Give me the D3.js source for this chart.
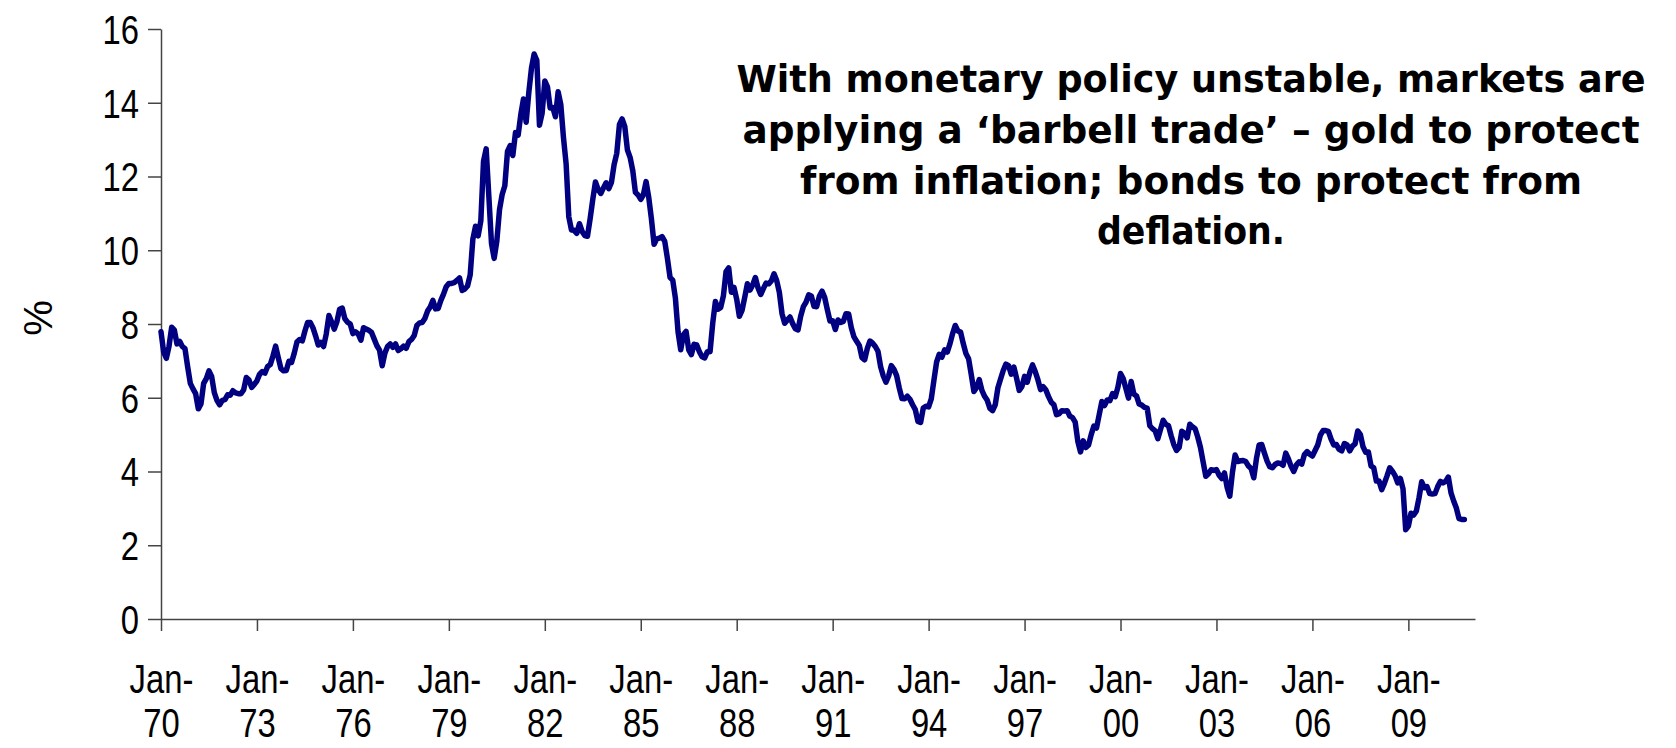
<!DOCTYPE html>
<html lang="en">
<head>
    <meta charset="UTF-8">
    <title>US 10-year yield</title>
    <script src="https://d3js.org/d3.v7.min.js"></script>
    <style>
        body { margin: 0; background: #fff; }
        svg { display: block; }
        .axis text { font-family: "Liberation Sans", Arial, sans-serif; font-size: 40px; fill: #000; }
        .note { font-family: "Comic Sans MS", "DejaVu Sans", sans-serif; font-weight: bold; font-size: 37px; fill: #000; }
    </style>
</head>
<body>
    <svg width="1676" height="748"></svg>

    <script>
        // monthly yields (%), Jan 1970 onward
        const y1970s = [
            7.79, 7.24, 7.07, 7.39, 7.91, 7.84, 7.46, 7.53, 7.39, 7.33, 6.84, 6.39,
            6.24, 6.11, 5.70, 5.83, 6.39, 6.52, 6.73, 6.58, 6.14, 5.93, 5.81, 5.93,
            5.95, 6.08, 6.07, 6.19, 6.13, 6.11, 6.11, 6.21, 6.55, 6.48, 6.28, 6.36,
            6.46, 6.64, 6.71, 6.67, 6.85, 6.90, 7.13, 7.40, 7.09, 6.79, 6.73, 6.74,
            6.99, 6.96, 7.21, 7.51, 7.58, 7.54, 7.81, 8.04, 8.04, 7.90, 7.68, 7.43,
            7.50, 7.39, 7.73, 8.23, 8.06, 7.86, 8.06, 8.40, 8.43, 8.14, 8.05, 8.00,
            7.74, 7.79, 7.73, 7.56, 7.90, 7.86, 7.83, 7.77, 7.59, 7.41, 7.29, 6.87,
            7.21, 7.39, 7.46, 7.37, 7.46, 7.28, 7.33, 7.40, 7.34, 7.52, 7.58, 7.69,
            7.96, 8.03, 8.04, 8.15, 8.35, 8.46, 8.64, 8.41, 8.42, 8.64, 8.81, 9.01,
            9.10, 9.10, 9.12, 9.18, 9.25, 8.91, 8.95, 9.03, 9.33, 10.30, 10.65, 10.39
        ];
        const y1980s = [
            10.80, 12.41, 12.75, 11.47, 10.18, 9.78, 10.25, 11.10, 11.51, 11.75, 12.68, 12.84,
            12.57, 13.19, 13.12, 13.68, 14.10, 13.47, 14.28, 14.94, 15.32, 15.15, 13.39, 13.72,
            14.59, 14.43, 13.86, 13.87, 13.62, 14.30, 13.95, 13.06, 12.34, 10.91, 10.55, 10.54,
            10.46, 10.72, 10.51, 10.40, 10.38, 10.85, 11.38, 11.85, 11.65, 11.54, 11.69, 11.83,
            11.67, 11.84, 12.32, 12.63, 13.41, 13.56, 13.36, 12.72, 12.52, 12.16, 11.57, 11.50,
            11.38, 11.51, 11.86, 11.43, 10.85, 10.16, 10.31, 10.33, 10.37, 10.24, 9.78, 9.26,
            9.19, 8.70, 7.78, 7.30, 7.71, 7.80, 7.30, 7.17, 7.45, 7.43, 7.25, 7.11,
            7.08, 7.25, 7.25, 8.02, 8.61, 8.40, 8.45, 8.76, 9.42, 9.52, 8.86, 8.99,
            8.67, 8.21, 8.37, 8.72, 9.09, 8.92, 9.06, 9.26, 8.98, 8.80, 8.96, 9.11,
            9.09, 9.17, 9.36, 9.18, 8.86, 8.28, 8.02, 8.11, 8.19, 8.01, 7.87, 7.84
        ];
        const y1990s = [
            8.21, 8.47, 8.59, 8.79, 8.76, 8.48, 8.47, 8.75, 8.89, 8.72, 8.39, 8.08,
            8.09, 7.85, 8.11, 8.04, 8.07, 8.28, 8.27, 7.90, 7.65, 7.53, 7.42, 7.09,
            7.03, 7.34, 7.54, 7.48, 7.39, 7.26, 6.84, 6.59, 6.42, 6.59, 6.87, 6.77,
            6.60, 6.26, 5.98, 5.97, 6.04, 5.96, 5.81, 5.68, 5.36, 5.33, 5.72, 5.77,
            5.75, 5.97, 6.48, 6.97, 7.18, 7.10, 7.30, 7.24, 7.46, 7.74, 7.96, 7.81,
            7.78, 7.47, 7.20, 7.06, 6.63, 6.17, 6.28, 6.49, 6.20, 6.04, 5.93, 5.71,
            5.65, 5.81, 6.27, 6.51, 6.74, 6.91, 6.87, 6.64, 6.83, 6.53, 6.20, 6.30,
            6.58, 6.42, 6.69, 6.89, 6.71, 6.49, 6.22, 6.30, 6.21, 6.03, 5.88, 5.81,
            5.54, 5.57, 5.65, 5.64, 5.65, 5.50, 5.46, 5.34, 4.81, 4.53, 4.83, 4.65,
            4.72, 5.00, 5.23, 5.18, 5.54, 5.90, 5.79, 5.94, 5.92, 6.11, 6.03, 6.28
        ];
        const y2000s = [
            6.66, 6.52, 6.26, 5.99, 6.44, 6.10, 6.05, 5.83, 5.80, 5.74, 5.72, 5.24,
            5.16, 5.10, 4.89, 5.14, 5.39, 5.28, 5.24, 4.97, 4.73, 4.57, 4.65, 5.09,
            5.04, 4.91, 5.28, 5.21, 5.16, 4.93, 4.65, 4.26, 3.87, 3.94, 4.05, 4.03,
            4.05, 3.90, 3.81, 3.96, 3.57, 3.33, 3.98, 4.45, 4.27, 4.29, 4.30, 4.27,
            4.15, 4.08, 3.83, 4.35, 4.72, 4.73, 4.50, 4.28, 4.13, 4.10, 4.19, 4.23,
            4.22, 4.17, 4.50, 4.34, 4.14, 4.00, 4.18, 4.26, 4.20, 4.46, 4.54, 4.47,
            4.42, 4.57, 4.72, 4.99, 5.11, 5.11, 5.09, 4.88, 4.72, 4.73, 4.60, 4.56,
            4.76, 4.72, 4.56, 4.69, 4.75, 5.10, 5.00, 4.67, 4.52, 4.53, 4.15, 4.10,
            3.74, 3.74, 3.51, 3.68, 3.88, 4.10, 4.01, 3.89, 3.69, 3.81, 3.53, 2.42,
            2.52, 2.87, 2.82, 2.93, 3.29, 3.72, 3.56, 3.59, 3.40, 3.39, 3.40, 3.59
        ];
        const y2010s = [3.73, 3.69, 3.73, 3.85, 3.42, 3.20, 3.01, 2.72, 2.70, 2.70];

        const yTicks = [0, 2, 4, 6, 8, 10, 12, 14, 16];
        const xTickYears = ["70", "73", "76", "79", "82", "85", "88", "91", "94", "97", "00", "03", "06", "09"];
        const yLabel = "%";
        const noteLines = [
            "With monetary policy unstable, markets are",
            "applying a \u2018barbell trade\u2019 \u2013 gold to protect",
            "from inflation; bonds to protect from",
            "deflation."
        ];

        const series = [].concat(y1970s, y1980s, y1990s, y2000s, y2010s)
            .map((v, i) => ({ m: i, v: v }));

        const svg = d3.select("svg");
        const width = +svg.attr("width");
        const height = +svg.attr("height");
        const margin = { top: 29, right: 201, bottom: 129, left: 161 };
        const narrow = 0.82;   // squeeze the axis font to look condensed
        const axisColor = "#444";

        // x in months since Jan-70; the axis runs a few months past the data
        const x = d3.scaleLinear()
            .domain([0, 493])
            .range([margin.left, width - margin.right]);

        const y = d3.scaleLinear()
            .domain([0, 16])
            .range([height - margin.bottom, margin.top]);

        const gx = svg.append("g")
            .attr("class", "axis")
            .attr("transform", `translate(0,${y(0)})`)
            .call(d3.axisBottom(x)
                .tickValues(xTickYears.map((d, i) => i * 36))
                .tickSize(12)
                .tickSizeOuter(0)
                .tickFormat(""));
        gx.select(".domain").attr("stroke", axisColor).attr("stroke-width", 1.5);
        gx.selectAll(".tick line").attr("stroke", axisColor).attr("stroke-width", 1.5);
        gx.selectAll(".tick text").remove();
        gx.selectAll(".tick").each(function (d, i) {
            const t = d3.select(this).append("text")
                .attr("text-anchor", "middle")
                .attr("transform", `scale(${narrow},1)`);
            t.append("tspan").attr("x", 0).attr("y", 74).text("Jan-");
            t.append("tspan").attr("x", 0).attr("y", 118).text(xTickYears[i]);
        });

        const gy = svg.append("g")
            .attr("class", "axis")
            .attr("transform", `translate(${x(0)},0)`)
            .call(d3.axisLeft(y)
                .tickValues(yTicks)
                .tickSize(13)
                .tickSizeOuter(0));
        gy.select(".domain").attr("stroke", axisColor).attr("stroke-width", 1.5);
        gy.selectAll(".tick line").attr("stroke", axisColor).attr("stroke-width", 1.5);
        gy.selectAll(".tick text")
            .attr("x", 0)
            .attr("dy", "0.36em")
            .attr("transform", `translate(-22,0) scale(${narrow},1)`);

        svg.append("text")
            .attr("class", "axis")
            .attr("transform", "translate(38,318) rotate(-90)")
            .attr("text-anchor", "middle")
            .attr("dy", "0.36em")
            .style("font-family", "'Liberation Sans', Arial, sans-serif")
            .style("font-size", "40px")
            .text(yLabel);

        const line = d3.line()
            .x(d => x(d.m))
            .y(d => y(d.v));

        svg.append("path")
            .datum(series)
            .attr("fill", "none")
            .attr("stroke", "#000080")
            .attr("stroke-width", 5.5)
            .attr("stroke-linejoin", "round")
            .attr("stroke-linecap", "round")
            .attr("d", line);

        // annotation, stretched to the widths of the original lines
        const noteWidths = [909, 897, 782, 188];
        const noteBase = [92, 143, 194, 244];
        svg.selectAll("text.note")
            .data(noteLines)
            .enter().append("text")
            .attr("class", "note")
            .attr("x", 1191)
            .attr("y", (d, i) => noteBase[i])
            .attr("text-anchor", "middle")
            .attr("textLength", (d, i) => noteWidths[i])
            .attr("lengthAdjust", "spacingAndGlyphs")
            .text(d => d);
    </script>
</body>
</html>
